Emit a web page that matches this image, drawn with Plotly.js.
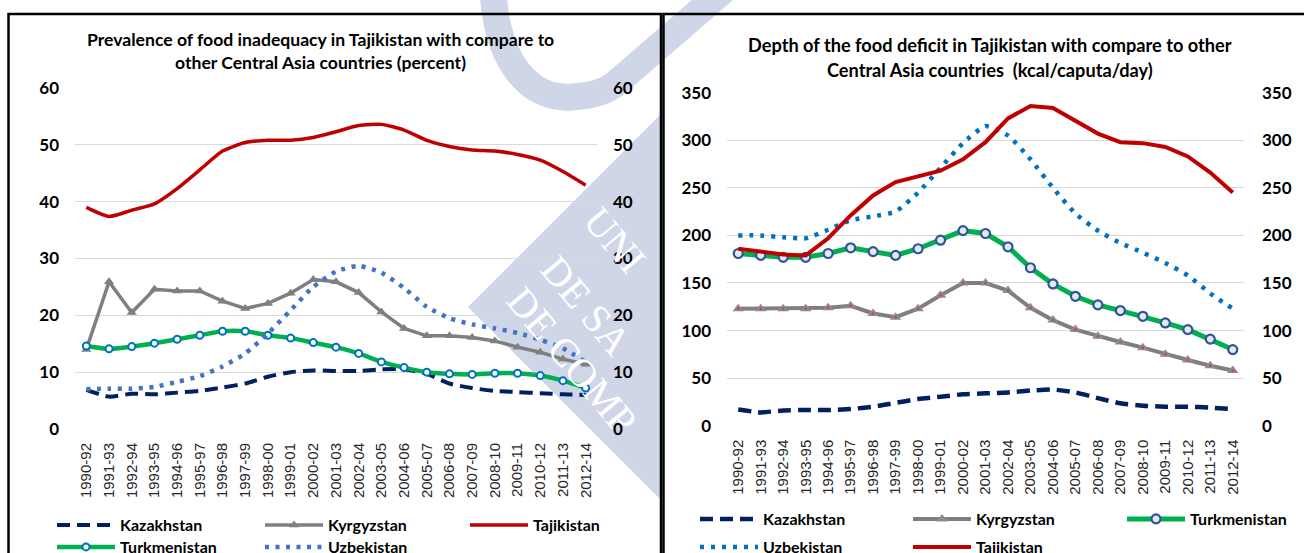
<!DOCTYPE html>
<html>
<head>
<meta charset="utf-8">
<script src="https://cdn.plot.ly/plotly-3.0.1.min.js"></script>
<style>
  html, body { margin: 0; padding: 0; background: #ffffff; }
  #chart { width: 1304px; height: 553px; }
</style>
</head>
<body>
<div id="chart"></div>
<script>
// ---------------- DATA ----------------
const categories = ['1990-92','1991-93','1992-94','1993-95','1994-96','1995-97','1996-98','1997-99','1998-00','1999-01','2000-02','2001-03','2002-04','2003-05','2004-06','2005-07','2006-08','2007-09','2008-10','2009-11','2010-12','2011-13','2012-14'];

// Prevalence of food inadequacy (percent)
const kazakhstanPct   = [6.9,5.7,6.2,6.1,6.4,6.7,7.3,8.0,9.2,10.0,10.3,10.2,10.2,10.5,10.5,9.7,8.0,7.2,6.7,6.5,6.3,6.1,6.0];
const kyrgyzstanPct   = [14.0,25.9,20.5,24.6,24.3,24.3,22.5,21.2,22.1,23.9,26.3,25.9,24.0,20.6,17.7,16.4,16.4,16.1,15.5,14.4,13.5,12.3,11.4];
const tajikistanPct   = [39.0,37.4,38.5,39.6,42.3,45.6,48.9,50.4,50.8,50.8,51.3,52.3,53.4,53.6,52.6,50.8,49.7,49.1,48.9,48.3,47.3,45.3,42.9];
const turkmenistanPct = [14.6,14.1,14.5,15.1,15.8,16.5,17.2,17.2,16.5,16.0,15.2,14.4,13.3,11.8,10.8,10.0,9.7,9.6,9.8,9.8,9.4,8.5,7.2];
const uzbekistanPct   = [7.0,7.1,7.1,7.4,8.3,9.3,11.0,13.3,16.8,20.9,25.0,27.7,28.7,27.5,24.8,21.5,19.5,18.4,17.7,16.9,15.7,14.2,11.8];

// Depth of the food deficit (kcal/capita/day)
const kazakhstanKcal   = [17,14,16,16.5,16.5,17.5,20,24,28,30.5,33,34,35,37,38,35,29,23.5,21,20,20,19,17.5];
const kyrgyzstanKcal   = [123,123,123,123,124,126,118,114,123,137,150,150,142,124,111,101,94,88,82,75,69,63,58];
const turkmenistanKcal = [181,179,177,177,181,187,183,179,186,195,205,202,188,166,149,136,127,121,115,108,101,91,80];
const uzbekistanKcal   = [200,200,198,197,206,216,220,225,245,271,297,315,305,280,250,223,205,192,182,171,158,139,123];
const tajikistanKcal   = [186,183,180,179,197,221,242,256,262,268,280,298,323,336,334,321,307,298,297,293,283,266,245];

// Tick values
const pctTicks  = [0,10,20,30,40,50,60];
const kcalTicks = [0,50,100,150,200,250,300,350];

// ---------------- LAYOUT HELPERS ----------------
const W = 1304, H = 553;
const px = x => x / W;
const py = y => 1 - y / H;

const C = {
  kaz: '#002060', kyr: '#7F7F7F', taj: '#C00000', tur: '#00B050',
  uzbL: '#4472C4', uzbR: '#0070C0'
};
const LEG_FONT = {family: 'Lato, "Open Sans", sans-serif', size: 16, color: '#000000', weight: 700};

const traces = [
  // ---- left chart ----
  {x: categories, y: kazakhstanPct, name: 'Kazakhstan', mode: 'lines', legend: 'legend',
   line: {color: C.kaz, width: 4, dash: '13px,7px', shape: 'spline', smoothing: 0.6}, xaxis: 'x', yaxis: 'y'},
  {x: categories, y: kyrgyzstanPct, name: 'Kyrgyzstan', mode: 'lines+markers', legend: 'legend2',
   line: {color: C.kyr, width: 3.5}, marker: {symbol: 'triangle-up', size: 9, color: C.kyr}, xaxis: 'x', yaxis: 'y'},
  {x: categories, y: tajikistanPct, name: 'Tajikistan', mode: 'lines', legend: 'legend3',
   line: {color: C.taj, width: 3.5, shape: 'spline', smoothing: 0.6}, xaxis: 'x', yaxis: 'y'},
  {x: categories, y: turkmenistanPct, name: 'Turkmenistan', mode: 'lines+markers', legend: 'legend4',
   line: {color: C.tur, width: 4.5, shape: 'spline', smoothing: 0.6},
   marker: {symbol: 'circle', size: 7, color: '#FFFFFF', line: {color: '#0070C0', width: 2}}, xaxis: 'x', yaxis: 'y'},
  {x: categories, y: uzbekistanPct, name: 'Uzbekistan', mode: 'lines', legend: 'legend5',
   line: {color: C.uzbL, width: 4.5, dash: '4px,6.5px', shape: 'spline', smoothing: 0.6}, xaxis: 'x', yaxis: 'y'},

  // ---- right chart ----
  {x: categories, y: kazakhstanKcal, name: 'Kazakhstan', mode: 'lines', legend: 'legend6',
   line: {color: C.kaz, width: 4.5, dash: '13px,7px', shape: 'spline', smoothing: 0.5}, xaxis: 'x2', yaxis: 'y2'},
  {x: categories, y: kyrgyzstanKcal, name: 'Kyrgyzstan', mode: 'lines+markers', legend: 'legend7',
   line: {color: C.kyr, width: 4}, marker: {symbol: 'triangle-up', size: 10, color: '#8C8C8C'}, xaxis: 'x2', yaxis: 'y2'},
  {x: categories, y: kyrgyzstanKcal, name: 'Kyrgyzstan', mode: 'markers', showlegend: false, hoverinfo: 'skip',
   marker: {symbol: 'circle', size: 3, color: '#C0504D'}, xaxis: 'x2', yaxis: 'y2'},
  {x: categories, y: turkmenistanKcal, name: 'Turkmenistan', mode: 'lines+markers', legend: 'legend8',
   line: {color: C.tur, width: 5},
   marker: {symbol: 'circle', size: 9, color: '#E3EAF6', line: {color: '#2F5597', width: 2.2}}, xaxis: 'x2', yaxis: 'y2'},
  {x: categories, y: uzbekistanKcal, name: 'Uzbekistan', mode: 'lines', legend: 'legend9',
   line: {color: C.uzbR, width: 4.5, dash: '4px,7px', shape: 'spline', smoothing: 0.5}, xaxis: 'x2', yaxis: 'y2'},
  {x: categories, y: tajikistanKcal, name: 'Tajikistan', mode: 'lines', legend: 'legend10',
   line: {color: C.taj, width: 4}, xaxis: 'x2', yaxis: 'y2'}
];

// legend placement: [legend id, line start px, row centre px]
const legendSpots = [
  ['legend', 57, 525], ['legend2', 265, 525], ['legend3', 470, 525],
  ['legend4', 57, 547], ['legend5', 265, 547],
  ['legend6', 700, 519], ['legend7', 913, 519], ['legend8', 1127, 519],
  ['legend9', 700, 547], ['legend10', 913, 547]
];

const TICKFONT_Y = {family: 'Lato, "Open Sans", sans-serif', size: 17, color: '#000000', weight: 700};
const TICKFONT_X = {family: '"Liberation Sans", Arial, sans-serif', size: 15, color: '#262626'};

function xAxis(domain) {
  return {domain: domain, type: 'category', categoryorder: 'array', categoryarray: categories,
    range: [-0.5, 22.5], tickangle: -90, tickfont: TICKFONT_X, showgrid: false, zeroline: false,
    showline: false, ticks: '', ticklabelstandoff: 10, fixedrange: true, automargin: false};
}
function yAxis(domain, range, ticks, anchor, extra) {
  return Object.assign({domain: domain, range: range, tickvals: ticks, anchor: anchor,
    tickfont: TICKFONT_Y, showgrid: true, gridcolor: '#D9D9D9', gridwidth: 1, zeroline: false,
    showline: false, ticks: '', ticklabelstandoff: 15, fixedrange: true, automargin: false}, extra || {});
}

const leftX = [px(75), px(597)];
const leftY = [py(429), py(88)];
const rightX = [px(727), px(1244)];
const rightY = [py(425.7), py(92.7)];

const layout = {
  width: W, height: H,
  margin: {l: 0, r: 0, t: 0, b: 0, pad: 0, autoexpand: false},
  paper_bgcolor: '#FFFFFF', plot_bgcolor: 'rgba(0,0,0,0)',
  showlegend: true,
  xaxis: Object.assign(xAxis(leftX), {anchor: 'y'}),
  yaxis: yAxis(leftY, [0, 60], pctTicks, 'x'),
  yaxis3: yAxis(leftY, [0, 60], pctTicks, 'x', {overlaying: 'y', side: 'right', showgrid: false}),
  xaxis2: Object.assign(xAxis(rightX), {anchor: 'y2'}),
  yaxis2: yAxis(rightY, [0, 350], kcalTicks, 'x2'),
  yaxis4: yAxis(rightY, [0, 350], kcalTicks, 'x2', {overlaying: 'y2', side: 'right', showgrid: false, ticklabelstandoff: 17}),
  annotations: [],
  shapes: []
};

// right-side axes need a trace each to be drawn: add invisible helper traces
traces.push({x: categories, y: tajikistanPct, xaxis: 'x', yaxis: 'y3', mode: 'lines', showlegend: false,
  hoverinfo: 'skip', line: {width: 0, color: 'rgba(0,0,0,0)'}});
traces.push({x: categories, y: tajikistanKcal, xaxis: 'x2', yaxis: 'y4', mode: 'lines', showlegend: false,
  hoverinfo: 'skip', line: {width: 0, color: 'rgba(0,0,0,0)'}});

legendSpots.forEach(([id, lineStart, rowY]) => {
  layout[id] = {x: px(lineStart - 5), xanchor: 'left', y: py(rowY), yanchor: 'middle',
    orientation: 'h', bgcolor: 'rgba(0,0,0,0)', borderwidth: 0, itemwidth: 58,
    font: LEG_FONT, itemclick: false, itemdoubleclick: false};
});

// titles
const TITLE_FONT_L = {family: 'Lato, "Open Sans", sans-serif', size: 17.6, color: '#000000', weight: 700};
const TITLE_FONT_R = {family: 'Lato, "Open Sans", sans-serif', size: 18.2, color: '#000000', weight: 700};
[
  ['Prevalence of food inadequacy in Tajikistan with compare to', 320, 40, TITLE_FONT_L],
  ['other Central Asia countries (percent)', 320, 62, TITLE_FONT_L],
  ['Depth of the food deficit in Tajikistan with compare to other', 990, 45, TITLE_FONT_R],
  ['Central Asia countries  (kcal/caputa/day)', 990, 70, TITLE_FONT_R]
].forEach(([t, x, y, f]) => {
  layout.annotations.push({text: t, x: px(x), y: py(y), xref: 'paper', yref: 'paper',
    xanchor: 'center', yanchor: 'middle', showarrow: false, font: f});
});

// watermark (university seal, faint)
const WM = '#CFD6E7';
const P = (x, y) => px(x).toFixed(4) + ',' + py(y).toFixed(4);
layout.shapes.push({type: 'path', xref: 'paper', yref: 'paper', layer: 'below',
  path: 'M' + P(493, -8) + ' C' + P(498, 70) + ' ' + P(535, 100) + ' ' + P(572, 97) +
        ' C' + P(592, 96) + ' ' + P(604, 92) + ' ' + P(614, 85) + ' L' + P(724, -10),
  line: {color: WM, width: 27}, fillcolor: 'rgba(0,0,0,0)'});
layout.shapes.push({type: 'path', xref: 'paper', yref: 'paper', layer: 'below',
  path: 'M' + P(468, 307) + ' L' + P(661, 114) + ' L' + P(661, 500) + ' Z',
  line: {width: 0, color: WM}, fillcolor: WM});

const WM_FONT = {family: '"Liberation Serif", "DejaVu Serif", serif', size: 40, color: '#FFFFFF'};
[
  ['UNI', 614, 240], ['DE SA', 586, 305], ['DE COMP', 572, 360]
].forEach(([t, x, y]) => {
  layout.annotations.push({text: t, x: px(x), y: py(y), xref: 'paper', yref: 'paper',
    xanchor: 'center', yanchor: 'middle', showarrow: false, textangle: 50, font: WM_FONT});
});

// panel frames
layout.shapes.push({type: 'rect', xref: 'paper', yref: 'paper', layer: 'above',
  x0: px(8.5), x1: px(661), y0: py(14), y1: py(560), line: {color: '#000000', width: 2.5}});
layout.shapes.push({type: 'rect', xref: 'paper', yref: 'paper', layer: 'above',
  x0: px(663.5), x1: px(1312), y0: py(14), y1: py(560), line: {color: '#000000', width: 2.5}});

Plotly.newPlot('chart', traces, layout, {displayModeBar: false, staticPlot: true});
</script>
</body>
</html>
